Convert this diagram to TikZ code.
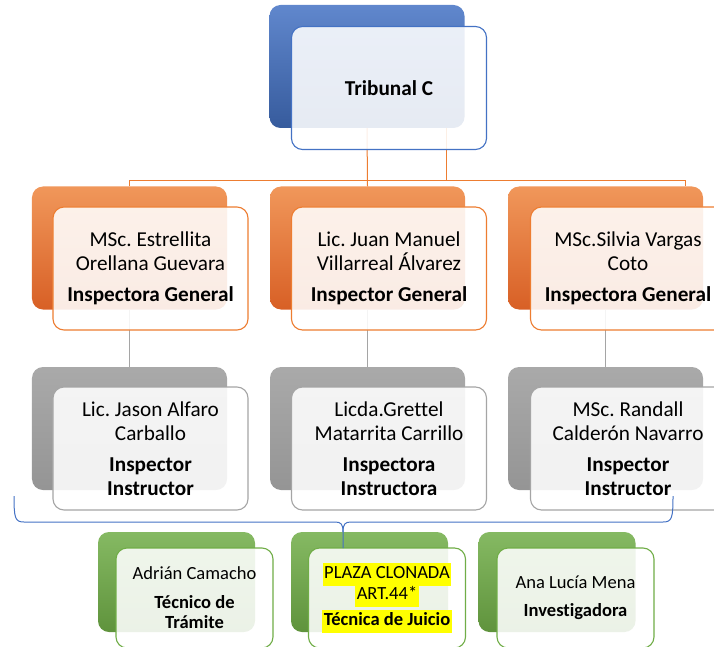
\documentclass[tikz,border=0pt]{standalone}
\usepackage{fontspec}
\setmainfont{Carlito}[Ligatures=NoCommon]
\frenchspacing

\definecolor{azul}{HTML}{4472C4}
\definecolor{naranja}{HTML}{ED7D31}
\definecolor{gris}{HTML}{A5A5A5}
\definecolor{verde}{HTML}{70AD47}
\definecolor{resalte}{HTML}{FFFF00}

\newcommand{\resaltar}[1]{{\setlength{\fboxsep}{1.5bp}\colorbox{resalte}{\strut #1}}}

\tikzset{
  caja/.style={rectangle, rounded corners=11bp, inner sep=0pt,
    minimum width=195bp, minimum height=123bp},
  cajita/.style={caja, minimum width=157bp, minimum height=100bp},
  fondo/.style 2 args={top color=#1, bottom color=#2},
  frente/.style={draw=#1, line width=1.1bp, fill=white, fill opacity=0.88,
    text opacity=1, align=center, font=\fontsize{21.3}{24}\selectfont},
  frentito/.style={frente=#1, font=\fontsize{18.6}{20}\selectfont},
  enlace/.style={draw=#1, line width=1bp},
  llave/.style={draw=azul, line width=1bp}
}

\begin{document}
\begin{tikzpicture}[x=1bp,y=-1bp]
\clip (0,0) rectangle (714,647);

% cajas de fondo
\node[caja, fondo={azul!85!white}{azul!80!black}] (tribB) at (367,66.5) {};
\node[caja, fondo={naranja!80!white}{naranja!85!red!90!black}] (ig1B) at (129.5,248) {};
\node[caja, fondo={naranja!80!white}{naranja!85!red!90!black}] (ig2B) at (367.5,248) {};
\node[caja, fondo={naranja!80!white}{naranja!85!red!90!black}] (ig3B) at (605.5,248) {};
\node[caja, fondo={gris!95!white}{gris!90!black}] (ii1B) at (129.5,428.5) {};
\node[caja, fondo={gris!95!white}{gris!90!black}] (ii2B) at (367.5,428.5) {};
\node[caja, fondo={gris!95!white}{gris!90!black}] (ii3B) at (605.5,428.5) {};
\node[cajita, fondo={verde!85!white}{verde!85!black}] (tc1B) at (176.5,582) {};
\node[cajita, fondo={verde!85!white}{verde!85!black}] (tc2B) at (369.5,582) {};
\node[cajita, fondo={verde!85!white}{verde!85!black}] (tc3B) at (557,582) {};

% conectores
\draw[enlace=naranja] (tribB.south) -- (ig2B.north);
\draw[enlace=naranja] (tribB.south) ++(79,0) -- ++(0,52) -| (ig1B.north);
\draw[enlace=naranja] (tribB.south) ++(79,0) -- ++(0,52) -| ([xshift=80bp]ig3B.north);
\draw[enlace=gris] (ig1B.south) -- (ii1B.north);
\draw[enlace=gris] (ig2B.south) -- (ii2B.north);
\draw[enlace=gris] (ig3B.south) -- (ii3B.north);

% cajas de frente
\node[caja, frente=azul] (trib) at (389,88) {\textbf{Tribunal C}};
\node[caja, frente=naranja] (ig1) at (150.5,268.5)
  {MSc. Estrellita\\Orellana Guevara\\[7bp]\textbf{Inspectora General}};
\node[caja, frente=naranja] (ig2) at (389,268.5)
  {Lic. Juan Manuel\\Villarreal Álvarez\\[7bp]\textbf{Inspector General}};
\node[caja, frente=naranja] (ig3) at (628,268.5)
  {MSc.Silvia Vargas\\Coto\\[7bp]\textbf{Inspectora General}};
\node[caja, frente=gris] (ii1) at (150.5,448.5)
  {Lic. Jason Alfaro\\Carballo\\[7bp]\textbf{Inspector}\\\textbf{Instructor}};
\node[caja, frente=gris] (ii2) at (389,448.5)
  {Licda.Grettel\\Matarrita Carrillo\\[7bp]\textbf{Inspectora}\\\textbf{Instructora}};
\node[caja, frente=gris] (ii3) at (628,448.5)
  {MSc. Randall\\Calderón Navarro\\[7bp]\textbf{Inspector}\\\textbf{Instructor}};
\node[cajita, frentito=verde] (tc1) at (194.5,598)
  {Adrián Camacho\\[9bp]\textbf{Técnico de}\\\textbf{Trámite}};
\node[cajita, frentito=verde] (tc2) at (387,598)
  {\resaltar{PLAZA CLONADA}\\[-3bp]\resaltar{ART.44*}\\[2bp]\resaltar{\textbf{Técnica de Juicio}}};
\node[cajita, frentito=verde] (tc3) at (575.5,598)
  {Ana Lucía Mena\\[8bp]\textbf{Investigadora}};

% llave azul
\coordinate (llaveI) at (14,496);
\coordinate (llaveD) at (673,496);
\coordinate (punta) at (343,548);
\draw[llave] (llaveI) .. controls (14,518) and (15,522) .. (24,522) -- (335,522)
  .. controls (341,522) and (343,524) .. (343,532) -- (punta);
\draw[llave] (llaveD) .. controls (673,518) and (672,522) .. (663,522) -- (351,522)
  .. controls (345,522) and (343,524) .. (343,532);
\end{tikzpicture}
\end{document}
